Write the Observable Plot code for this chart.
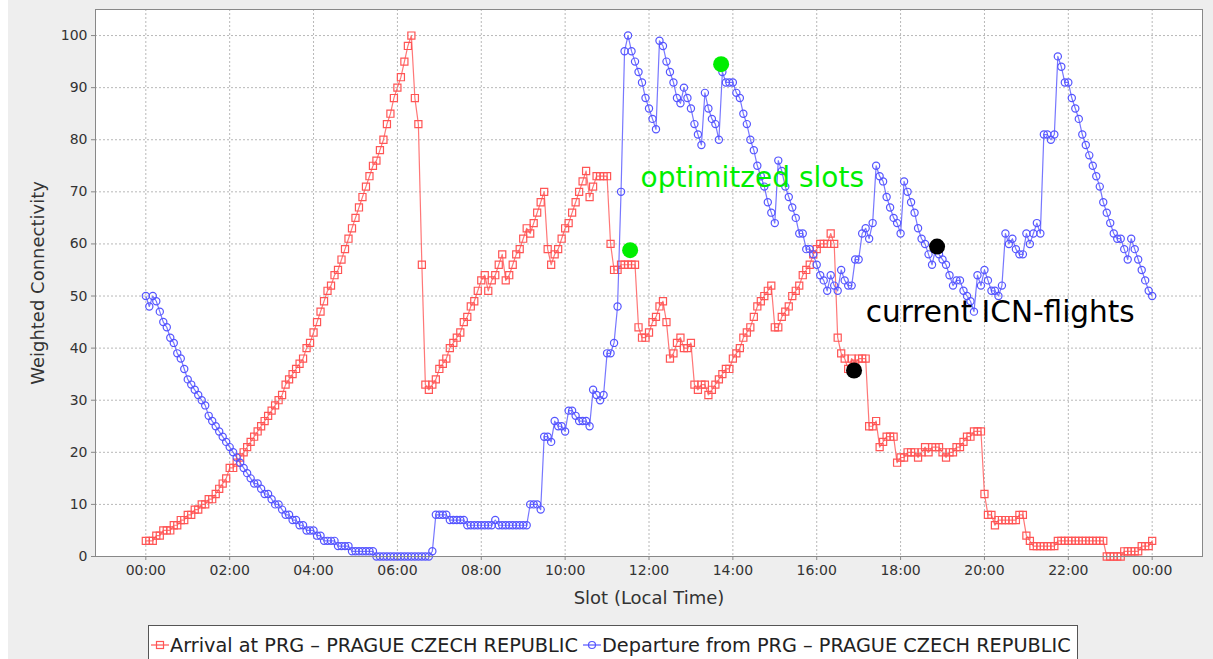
<!DOCTYPE html>
<html><head><meta charset="utf-8">
<script src="https://cdn.jsdelivr.net/npm/d3@7"></script>
<script src="https://cdn.jsdelivr.net/npm/@observablehq/plot@0.6"></script>
<style>
html,body{margin:0;padding:0;background:#ffffff;overflow:hidden;}
#wrap{position:absolute;left:8px;top:0;width:1205px;height:659px;background:#eeeeee;font-family:"DejaVu Sans",sans-serif;}
#chart svg{display:block;}
#legend{position:absolute;left:140px;top:625px;width:930px;height:40px;background:#fff;border:1px solid #555;box-sizing:border-box;display:flex;align-items:center;padding-left:2px;font-size:19.3px;color:#222;white-space:nowrap;}
#legend .item{display:flex;align-items:center;margin-right:5px;}
#legend svg{margin-right:1px;}
</style></head>
<body><div id="wrap"><div id="chart"></div><div id="legend"></div></div>
<script>
// 5-minute slots from 00:00 to 24:00 (289 values per series)
const seriesNames = ["Arrival at PRG – PRAGUE CZECH REPUBLIC", "Departure from PRG – PRAGUE CZECH REPUBLIC"];
const seriesColors = ["#ff5555", "#5555ff"];
const arrival = [
 3,3,3,4,4,5,5,5,6,6,7,7,
 8,8,9,9,10,10,11,11,12,13,14,15,
 17,17,18,19,20,21,22,23,24,25,26,27,
 28,29,30,31,33,34,35,36,37,38,40,41,
 43,45,47,49,51,52,54,55,57,59,61,63,
 65,67,69,71,73,75,76,78,80,83,85,88,
 90,92,95,98,100,88,83,56,33,32,33,34,
 36,37,38,40,41,42,43,45,46,48,49,51,
 53,54,51,53,54,56,58,53,54,56,58,59,
 61,63,62,64,66,68,70,59,56,58,59,61,
 63,64,66,68,70,72,74,69,71,73,73,73,
 73,60,55,55,56,56,56,56,56,44,42,42,
 43,45,46,48,49,45,38,39,41,42,40,40,
 41,33,32,33,33,31,32,33,34,35,36,36,
 38,39,40,42,43,44,46,48,49,50,51,52,
 44,44,46,47,48,50,51,52,54,55,56,58,
 59,60,60,60,62,60,42,39,38,36,38,37,
 38,38,38,25,25,26,21,22,23,23,23,18,
 19,19,20,20,20,19,20,21,20,21,21,21,
 20,19,20,20,21,21,22,23,23,24,24,24,
 12,8,8,6,7,7,7,7,7,7,8,8,
 4,3,2,2,2,2,2,2,2,3,3,3,
 3,3,3,3,3,3,3,3,3,3,3,0,
 0,0,0,0,1,1,1,1,1,2,2,2,
 3];
const departure = [
 50,48,50,49,47,45,44,42,41,39,38,36,
 34,33,32,31,30,29,27,26,25,24,23,22,
 21,20,19,18,17,16,15,14,14,13,12,12,
 11,10,10,9,8,8,7,7,6,6,5,5,
 5,4,4,3,3,3,3,2,2,2,2,1,
 1,1,1,1,1,1,0,0,0,0,0,0,
 0,0,0,0,0,0,0,0,0,0,1,8,
 8,8,8,7,7,7,7,7,6,6,6,6,
 6,6,6,6,7,6,6,6,6,6,6,6,
 6,6,10,10,10,9,23,23,22,26,25,25,
 24,28,28,27,26,26,26,25,32,31,30,31,
 39,39,41,48,70,97,100,97,95,93,91,88,
 86,84,82,99,98,95,93,91,88,87,90,88,
 86,83,81,79,89,86,84,83,80,93,91,91,
 91,89,88,85,83,80,78,75,73,71,68,66,
 64,76,74,71,69,67,65,62,62,59,59,58,
 56,54,53,51,54,52,51,55,53,52,52,57,
 57,62,63,61,64,75,73,72,69,67,65,64,
 62,72,70,68,66,63,61,60,58,56,59,58,
 57,56,54,52,53,53,51,50,49,47,54,52,
 55,53,51,51,50,52,62,60,61,59,58,58,
 62,60,62,64,62,81,81,80,81,96,94,91,
 91,88,86,84,81,79,77,75,73,71,68,66,
 64,62,61,61,59,57,61,59,57,55,53,51,
 50];
const slotsPerHour = 12;
const xTickValues = [0,2,4,6,8,10,12,14,16,18,20,22,24];
const xTickLabels = ["00:00","02:00","04:00","06:00","08:00","10:00","12:00","14:00","16:00","18:00","20:00","22:00","00:00"];
const yTickValues = [0,10,20,30,40,50,60,70,80,90,100];
const xLabel = "Slot (Local Time)";
const yLabel = "Weighted Connectivity";
// highlighted slots (hour, value)
const optimizedX = [11.55, 13.72];
const optimizedY = [58.8, 94.5];
const currentX = [16.89, 18.87];
const currentY = [35.7, 59.5];
const noteLabels = ["optimitzed slots", "current ICN-flights"];
const noteX = [11.8, 17.17];
const noteY = [72.6, 46.8];
const noteColors = ["#00ee00", "#000000"];
const noteSizes = [28, 29.5];

const arrRows = arrival.map((v, i) => ({t: i / slotsPerHour, v}));
const depRows = departure.map((v, i) => ({t: i / slotsPerHour, v}));
const optRows = optimizedX.map((x, i) => ({x, y: optimizedY[i]}));
const curRows = currentX.map((x, i) => ({x, y: currentY[i]}));
const noteRows = noteLabels.map((s, i) => ({s, x: noteX[i], y: noteY[i], c: noteColors[i], f: noteSizes[i]}));

const chart = Plot.plot({
  width: 1205, height: 618,
  marginLeft: 87, marginRight: 11, marginTop: 9, marginBottom: 62,
  style: {fontFamily: "DejaVu Sans, sans-serif", fontSize: "14px", background: "transparent", color: "#333"},
  x: {domain: [-1.2, 25.2], axis: null},
  y: {domain: [0, 105], axis: null},
  marks: [
    Plot.frame({fill: "#ffffff", stroke: null}),
    Plot.gridX(xTickValues, {stroke: "#b8b8b8", strokeOpacity: 1, strokeDasharray: "2,2"}),
    Plot.gridY(yTickValues, {stroke: "#b8b8b8", strokeOpacity: 1, strokeDasharray: "2,2"}),
    Plot.line(arrRows, {x: "t", y: "v", stroke: seriesColors[0], strokeWidth: 1.2, strokeOpacity: 0.8}),
    Plot.dot(arrRows, {x: "t", y: "v", symbol: "square", r: 4, stroke: seriesColors[0], fill: "none", strokeWidth: 1.2}),
    Plot.line(depRows, {x: "t", y: "v", stroke: seriesColors[1], strokeWidth: 1.2, strokeOpacity: 0.8}),
    Plot.dot(depRows, {x: "t", y: "v", symbol: "circle", r: 3.6, stroke: seriesColors[1], fill: "none", strokeWidth: 1.2}),
    Plot.dot(optRows, {x: "x", y: "y", r: 8, fill: "#00ee00", stroke: null}),
    Plot.dot(curRows, {x: "x", y: "y", r: 8, fill: "#000000", stroke: null}),
    Plot.text(noteRows, {x: "x", y: "y", text: "s", fill: "c", fontSize: "f", textAnchor: "start", lineAnchor: "middle"}),
    Plot.frame({stroke: "#888888", fill: null}),
    Plot.axisX(xTickValues, {tickFormat: d => xTickLabels[xTickValues.indexOf(d)], tickSize: 4, tickPadding: 5, stroke: "#888", fill: "#333", fontSize: 14, label: null}),
    Plot.axisY(yTickValues, {tickSize: 4, tickPadding: 4, stroke: "#888", fill: "#333", fontSize: 14, label: null}),
    Plot.text([xLabel], {frameAnchor: "bottom", dy: 42, fontSize: 18, fill: "#333", textAnchor: "middle", lineAnchor: "middle"}),
    Plot.text([yLabel], {frameAnchor: "left", dx: -57, rotate: -90, fontSize: 18, fill: "#333", textAnchor: "middle", lineAnchor: "middle"})
  ]
});
document.getElementById("chart").appendChild(chart);

const legend = document.getElementById("legend");
seriesNames.forEach((name, i) => {
  const item = document.createElement("div");
  item.className = "item";
  const icon = i === 0
    ? `<svg width="18" height="14"><line x1="0" y1="7" x2="18" y2="7" stroke="${seriesColors[i]}" stroke-width="1.2"/><rect x="5.5" y="3.5" width="7" height="7" fill="none" stroke="${seriesColors[i]}" stroke-width="1.2"/></svg>`
    : `<svg width="18" height="14"><line x1="0" y1="7" x2="18" y2="7" stroke="${seriesColors[i]}" stroke-width="1.2"/><circle cx="9" cy="7" r="3.5" fill="none" stroke="${seriesColors[i]}" stroke-width="1.2"/></svg>`;
  item.innerHTML = icon + `<span>${name}</span>`;
  legend.appendChild(item);
});
</script></body></html>
